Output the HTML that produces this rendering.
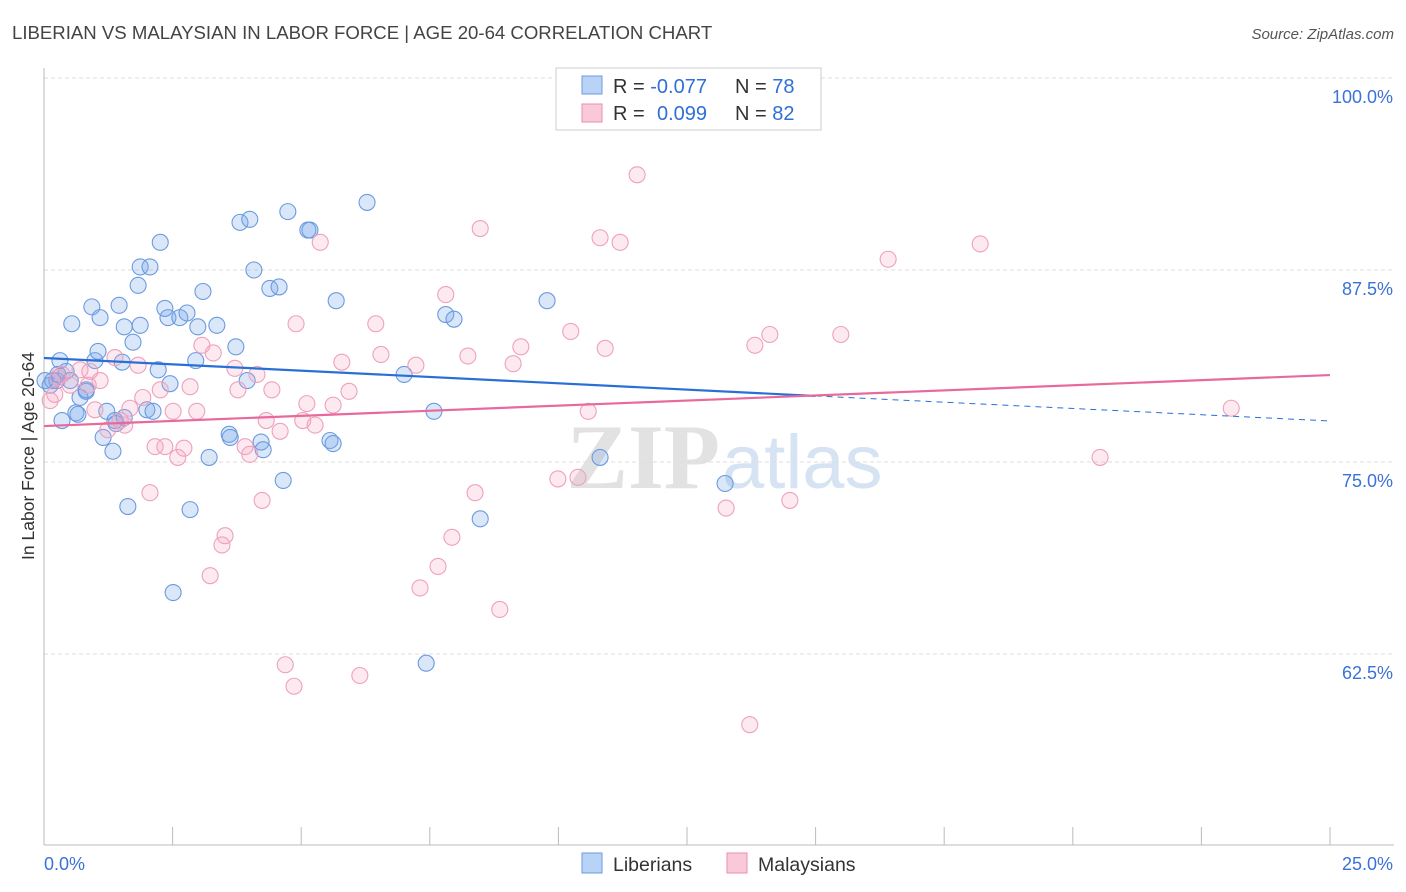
<!DOCTYPE html>
<html><head><meta charset="utf-8"><style>
body{margin:0;background:#fff;font-family:"Liberation Sans",sans-serif;}
#wrap{position:relative;width:1406px;height:892px;overflow:hidden;}
</style></head><body>
<div id="wrap">
<svg id="chart" width="1406" height="892" xmlns="http://www.w3.org/2000/svg">
<text x="12" y="39" font-size="18.6" fill="#444">LIBERIAN VS MALAYSIAN IN LABOR FORCE | AGE 20-64 CORRELATION CHART</text>
<text x="1394" y="39" font-size="15" fill="#555" font-style="italic" text-anchor="end">Source: ZipAtlas.com</text>
<text x="720" y="488" font-size="92" fill="#e2e2e2" font-family="Liberation Serif,serif" text-anchor="end" font-weight="bold">ZIP</text>
<text x="722" y="488" font-size="76" fill="#d6e3f3" text-anchor="start">atlas</text>
<g id="grid"></g><g id="pts"></g><g id="lines"></g>
<text x="34" y="456" font-size="17.5" fill="#333" text-anchor="middle" transform="rotate(-90 34 456)">In Labor Force | Age 20-64</text>
<g>
<rect x="556" y="68" width="265" height="62" fill="#fff" stroke="#ccc"/>
<rect x="582" y="76" width="20" height="18" fill="#b8d3f5" stroke="#6a9be0"/>
<rect x="582" y="104" width="20" height="18" fill="#f9c9d8" stroke="#ea8fae"/>
<text x="613" y="93" font-size="20" fill="#333">R = <tspan fill="#2f6fd6">-0.077</tspan><tspan x="735">N = </tspan><tspan fill="#2f6fd6">78</tspan></text>
<text x="613" y="120" font-size="20" fill="#333">R = <tspan fill="#2f6fd6" x="657">0.099</tspan><tspan x="735">N = </tspan><tspan fill="#2f6fd6">82</tspan></text>
</g>
<g>
<rect x="582" y="853" width="20" height="20" fill="#b8d3f5" stroke="#6a9be0"/>
<text x="613" y="871" font-size="19.5" fill="#333">Liberians</text>
<rect x="727" y="853" width="20" height="20" fill="#f9c9d8" stroke="#ea8fae"/>
<text x="758" y="871" font-size="19.5" fill="#333">Malaysians</text>
</g>
</svg>
</div>
<script>
const yTicks=[100,87.5,75,62.5];
const yTickLabels=["100.0%","87.5%","75.0%","62.5%"];
const xTickLabels=["0.0%","25.0%"];
const blueX=[0.25,0.31,0.35,0.54,0.62,0.70,0.82,0.93,0.99,1.09,1.05,1.15,1.22,1.34,1.38,1.46,1.52,1.56,1.73,1.83,1.87,2.06,1.87,2.00,2.12,2.26,2.22,2.35,2.41,2.45,2.64,2.78,2.95,2.99,3.09,3.21,3.36,3.60,3.73,3.81,4.00,3.95,4.08,4.22,4.26,4.39,4.57,4.65,4.74,5.13,5.17,5.56,5.62,5.68,6.28,7.00,7.58,7.81,7.97,8.48,7.43,9.78,10.81,13.24,2.51,1.63,2.84,0.12,0.17,0.43,0.66,1.40,1.56,0.02,0.27,0.51,0.82,3.62];
const blueY=[80.3,81.6,77.7,84.0,78.2,79.2,79.6,85.1,81.6,84.4,82.2,76.6,78.3,75.7,77.7,85.2,81.5,83.8,82.8,86.5,87.7,87.7,83.9,78.4,78.3,89.3,81.0,85.0,84.4,80.1,84.4,84.7,81.6,83.8,86.1,75.3,83.9,76.8,82.5,90.6,90.8,80.3,87.5,76.3,75.8,86.3,86.4,73.8,91.3,90.1,90.1,76.4,76.2,85.5,91.9,80.7,78.3,84.6,84.3,71.3,61.9,85.5,75.3,73.6,66.5,72.1,71.9,80.0,80.3,80.9,78.1,77.5,77.9,80.3,80.7,80.3,79.7,76.6];
const pinkX=[0.12,0.21,0.35,0.51,0.70,0.86,0.99,1.24,1.38,1.48,1.57,1.67,1.83,1.92,2.06,2.16,2.26,2.35,2.51,2.60,2.72,2.84,2.97,3.07,3.29,3.23,3.46,3.52,3.71,3.77,3.91,4.00,4.14,4.24,4.32,4.43,4.59,4.69,4.86,4.90,5.03,5.11,5.27,5.37,5.62,5.79,5.93,6.14,6.45,6.55,7.23,7.31,7.66,7.81,7.93,8.24,8.38,8.48,8.86,9.12,9.27,9.99,10.24,10.38,10.58,10.81,10.91,11.20,11.53,13.26,13.72,13.82,14.11,14.50,15.49,16.41,18.20,20.53,23.08,0.27,0.89,1.09];
const pinkY=[79.0,79.4,80.7,80.0,81.0,80.0,78.4,77.1,81.8,77.7,77.4,78.5,81.3,79.2,73.0,76.0,79.7,76.0,78.3,75.3,75.9,79.9,78.3,82.6,82.1,67.6,69.6,70.2,81.1,79.7,76.0,75.5,80.7,72.5,77.7,79.7,77.0,61.8,60.4,84.0,77.7,78.8,77.4,89.3,78.7,81.5,79.6,61.1,84.0,82.0,81.3,66.8,68.2,85.9,70.1,81.9,73.0,90.2,65.4,81.4,82.5,73.9,83.5,74.0,78.3,89.6,82.4,89.3,93.7,72.0,57.9,82.6,83.3,72.5,83.3,88.2,89.2,75.3,78.5,80.5,80.9,80.3];
const blueTrendX=[0,15,25];
const blueTrendY=[81.77,79.3,77.67];
const pinkTrendX=[0,25];
const pinkTrendY=[77.34,80.66];

const NS="http://www.w3.org/2000/svg";
const xs=v=>44+v/25*1286;
const ys=v=>78+(100-v)/12.5*192;
function mk(tag,attrs,parent){const e=document.createElementNS(NS,tag);for(const k in attrs)e.setAttribute(k,attrs[k]);parent.appendChild(e);return e;}
const grid=document.getElementById('grid');
yTicks.forEach((t,i)=>{
  const l=mk('line',{x1:44,x2:1394,y1:ys(t),y2:ys(t),stroke:'#ddd','stroke-dasharray':'4,3'},grid);
  
  
  const tx=mk('text',{x:1393,y:ys(t)+25,'font-size':18,fill:'#3a72d8','text-anchor':'end'},grid);
  tx.textContent=yTickLabels[i];
  
  
});
const ax=mk('line',{x1:44,x2:1394,y1:845,y2:845,stroke:'#bbb'},grid);


const ay=mk('line',{x1:44,x2:44,y1:68,y2:845,stroke:'#bbb'},grid);


for(let i=1;i<=10;i++){
  const v=i*2.5;
  const tk=mk('line',{x1:xs(v),x2:xs(v),y1:827,y2:845,stroke:'#bbb'},grid);
  
  
}
[0,25].forEach((v,i)=>{
  const t=mk('text',{x:i?1393:44,y:870,'font-size':18,fill:'#3a72d8','text-anchor':i?'end':'start'},grid);
  t.textContent=xTickLabels[i];
  
  
});
const pts=document.getElementById('pts');
blueX.forEach((x,i)=>{
  const c=mk('circle',{cx:xs(x),cy:ys(blueY[i]),r:8,fill:'rgba(120,170,235,0.28)',stroke:'#6b9ae0','stroke-width':1.1},pts);
  
  
});
pinkX.forEach((x,i)=>{
  const c=mk('circle',{cx:xs(x),cy:ys(pinkY[i]),r:8,fill:'rgba(245,160,190,0.22)',stroke:'#efa0bb','stroke-width':1.1},pts);
  
  
});
const lines=document.getElementById('lines');
const b1=mk('line',{x1:xs(blueTrendX[0]),y1:ys(blueTrendY[0]),x2:xs(blueTrendX[1]),y2:ys(blueTrendY[1]),stroke:'#2a6fd6','stroke-width':2.2},lines);


const b2=mk('line',{x1:xs(blueTrendX[1]),y1:ys(blueTrendY[1]),x2:xs(blueTrendX[2]),y2:ys(blueTrendY[2]),stroke:'#2a6fd6','stroke-width':1,'stroke-dasharray':'6,5'},lines);


const p1=mk('line',{x1:xs(pinkTrendX[0]),y1:ys(pinkTrendY[0]),x2:xs(pinkTrendX[1]),y2:ys(pinkTrendY[1]),stroke:'#e8699b','stroke-width':2.2},lines);


</script>
</body></html>
